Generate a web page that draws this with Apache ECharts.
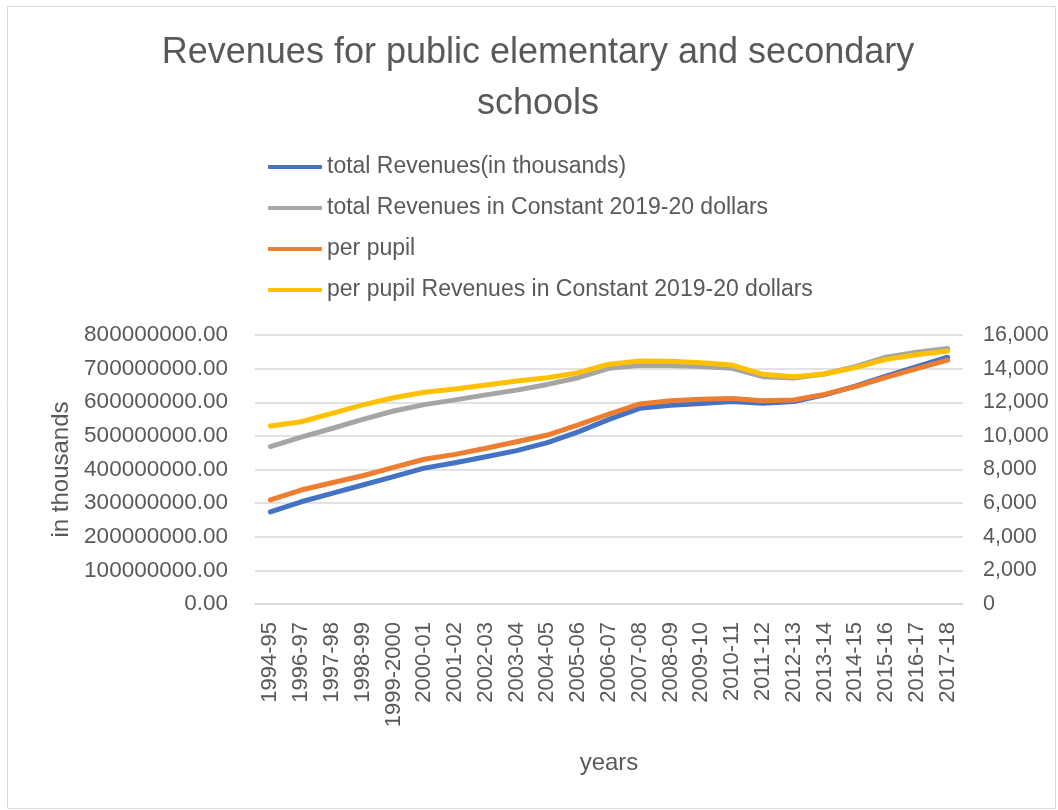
<!DOCTYPE html>
<html>
<head>
<meta charset="utf-8">
<script src="https://cdn.jsdelivr.net/npm/echarts@6/dist/echarts.min.js"></script>
<style>html,body{margin:0;padding:0;background:#fff}#c{width:1058px;height:810px}</style>
</head>
<body>
<div id="c"></div>
<script>
var categories = ['1994-95','1996-97','1997-98','1998-99','1999-2000','2000-01','2001-02','2002-03','2003-04','2004-05','2005-06','2006-07','2007-08','2008-09','2009-10','2010-11','2011-12','2012-13','2013-14','2014-15','2015-16','2016-17','2017-18'];
var totalRevenues = [274000000,304000000,329000000,354000000,379000000,404000000,420000000,438000000,456000000,480000000,512000000,549000000,582000000,591000000,596000000,602000000,597000000,602000000,622000000,648000000,678000000,706000000,734000000];
var totalRevenuesConstant = [468000000,496000000,522000000,549000000,574000000,593000000,607000000,622000000,636000000,653000000,673000000,701000000,710000000,709000000,706000000,701000000,676000000,672000000,684000000,706000000,734000000,749000000,760000000];
var perPupil = [6190,6780,7215,7630,8130,8610,8900,9260,9650,10050,10650,11300,11900,12090,12175,12230,12090,12130,12470,12925,13480,14000,14510];
var perPupilConstant = [10590,10840,11340,11840,12270,12590,12790,13030,13260,13460,13760,14260,14450,14440,14350,14210,13660,13520,13680,14060,14550,14830,15050];
var leftTicks = [0,100000000,200000000,300000000,400000000,500000000,600000000,700000000,800000000];
var rightTicks = [0,2000,4000,6000,8000,10000,12000,14000,16000];

var txt = '#595959';
var font = 'Liberation Sans';
var chart = echarts.init(document.getElementById('c'), null, {renderer:'canvas'});
chart.setOption({
  backgroundColor:'#fff',
  animation:false,
  graphic:[{type:'rect', shape:{x:7.5,y:6.5,width:1048,height:802}, style:{fill:'none', stroke:'#D9D9D9', lineWidth:1}, silent:true, z:-1}],
  title:{
    text:'Revenues for public elementary and secondary\nschools',
    left:538, top:28, textAlign:'center', padding:0,
    textStyle:{color:txt, fontSize:36, fontWeight:'normal', fontFamily:font, lineHeight:51}
  },
  legend:{
    orient:'vertical', left:268, top:155, padding:0,
    itemWidth:54, itemHeight:4, itemGap:17, icon:'roundRect',
    textStyle:{color:txt, fontSize:23, fontFamily:font, lineHeight:24},
    data:['total Revenues(in thousands)','total Revenues in Constant 2019-20 dollars','per pupil','per pupil Revenues in Constant 2019-20 dollars']
  },
  grid:{left:255, right:95, top:335, bottom:206, containLabel:false},
  xAxis:{
    type:'category', data:categories, boundaryGap:true,
    name:'years', nameLocation:'middle', nameGap:147,
    nameTextStyle:{color:txt, fontSize:24, fontFamily:font},
    axisLine:{lineStyle:{color:'#D9D9D9', width:1.5}},
    axisTick:{show:false},
    axisLabel:{rotate:90, color:txt, fontSize:22, fontFamily:font, margin:18, interval:0}
  },
  yAxis:[{
    type:'value', min:0, max:800000000, interval:100000000,
    name:'in thousands', nameLocation:'middle', nameGap:182, nameRotate:90,
    nameTextStyle:{color:txt, fontSize:24, fontFamily:font},
    axisLine:{show:false}, axisTick:{show:false},
    splitLine:{lineStyle:{color:'#D9D9D9', width:1.5}},
    axisLabel:{color:txt, fontSize:22.5, fontFamily:font, margin:27, formatter:function(v){return v.toFixed(2);}}
  },{
    type:'value', min:0, max:16000, interval:2000, position:'right',
    axisLine:{show:false}, axisTick:{show:false}, splitLine:{show:false},
    axisLabel:{color:txt, fontSize:21.5, fontFamily:font, margin:20, formatter:function(v){return v.toLocaleString('en-US');}}
  }],
  series:[
    {name:'total Revenues(in thousands)', type:'line', yAxisIndex:0, data:totalRevenues, symbol:'none', color:'#4472C4', lineStyle:{width:5, cap:'round', join:'round'}},
    {name:'total Revenues in Constant 2019-20 dollars', type:'line', yAxisIndex:0, data:totalRevenuesConstant, symbol:'none', color:'#A5A5A5', lineStyle:{width:5, cap:'round', join:'round'}},
    {name:'per pupil', type:'line', yAxisIndex:1, data:perPupil, symbol:'none', color:'#ED7D31', lineStyle:{width:5, cap:'round', join:'round'}},
    {name:'per pupil Revenues in Constant 2019-20 dollars', type:'line', yAxisIndex:1, data:perPupilConstant, symbol:'none', color:'#FFC000', lineStyle:{width:5, cap:'round', join:'round'}}
  ]
});
</script>
</body>
</html>
